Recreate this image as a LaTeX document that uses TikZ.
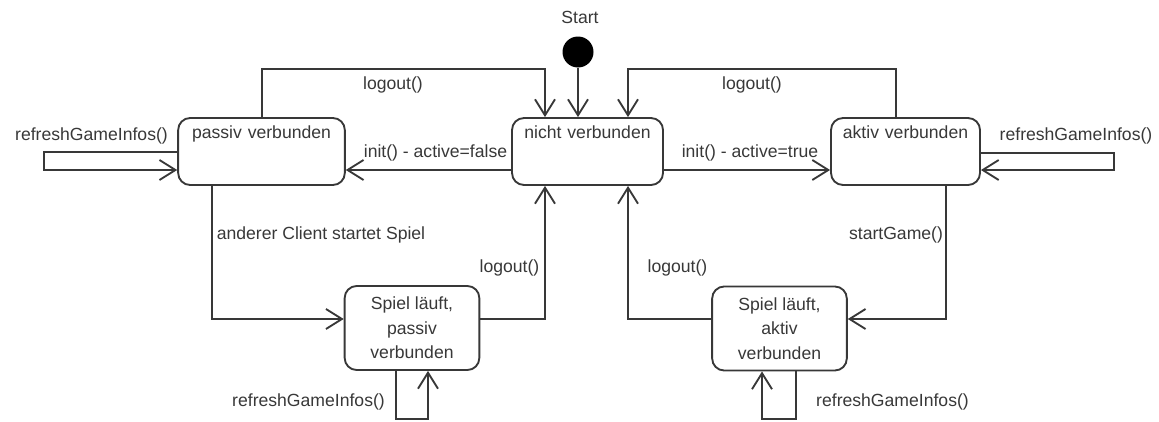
\documentclass[tikz,border=0pt]{standalone}
\usepackage{fontspec}
\setmainfont{Liberation Sans}
\usetikzlibrary{arrows.meta}
\definecolor{ink}{HTML}{383838}
\begin{document}
\begin{tikzpicture}[x=0.75pt,y=-0.75pt,
  every node/.style={font=\fontsize{13.2pt}{18.5pt}\selectfont, text=ink},
  topstate/.style={draw=ink, line width=1.4pt, rounded corners=9pt, fill=white,
    minimum height=50.25pt, inner xsep=2pt, inner ysep=3pt,
    text height=12.6pt, text depth=31.65pt, align=center},
  gamestate/.style={draw=ink, line width=1.4pt, rounded corners=9pt, fill=white,
    minimum width=101pt, minimum height=63pt, align=center, inner sep=2pt},
  lbl/.style={inner sep=0pt, anchor=center},
  conn/.style={draw=ink, line width=1.4pt},
  arr/.style={conn, -{Straight Barb[length=12pt,width=15pt,line width=1.4pt]}}
]
\useasboundingbox (0,0) rectangle (1159,421);

% initial pseudo-state
\node (startlbl) [lbl] at (580,17) {Start};
\node (start) [circle, fill=black, minimum size=23.25pt, inner sep=0pt] at (578,52) {};

% states
\node (pv) [topstate, text width=121pt] at (261.5,151.5) {passiv verbunden};
\node (nv) [topstate, text width=109.25pt] at (587.5,151.5) {nicht verbunden};
\node (av) [topstate, text width=107.75pt] at (905.5,151.5) {aktiv verbunden};
\node (sp) [gamestate] at (412,328) {Spiel läuft,\\passiv\\verbunden};
\node (sa) [gamestate] at (779.5,328.5) {Spiel läuft,\\aktiv\\verbunden};

% bend points
\coordinate (loL) at (545,69);
\coordinate (loR) at (628,69);
\coordinate (pvL1) at (44,152);
\coordinate (pvL2) at (44,170);
\coordinate (avL1) at (1114,153);
\coordinate (avL2) at (1114,170);
\coordinate (pvD) at (212,319);
\coordinate (spR) at (545,319);
\coordinate (avD) at (946,319);
\coordinate (saL) at (628,319);
\coordinate (spB1) at (396,419);
\coordinate (spB2) at (428,419);
\coordinate (saB1) at (796,419);
\coordinate (saB2) at (762,419);

% transitions
\draw[arr] (start) -- (start |- nv.north);
\draw[arr] (pv.north -| 262,0) |- (loL) -- (loL |- nv.north);
\draw[arr] (av.north -| 896,0) |- (loR) -- (loR |- nv.north);
\draw[arr] (nv.west |- 0,170) -- (pv.east |- 0,170);
\draw[arr] (nv.east |- 0,170) -- (av.west |- 0,170);
\draw[arr] (pv.west |- pvL1) -- (pvL1) -- (pvL2) -- (pv.west |- pvL2);
\draw[arr] (av.east |- avL1) -- (avL1) -- (avL2) -- (av.east |- avL2);
\draw[arr] (pv.south -| pvD) -- (pvD) -- (sp.west |- pvD);
\draw[arr] (sp.east |- spR) -- (spR) -- (spR |- nv.south);
\draw[arr] (av.south -| avD) -- (avD) -- (sa.east |- avD);
\draw[arr] (sa.west |- saL) -- (saL) -- (saL |- nv.south);
\draw[arr] (sp.south -| spB1) -- (spB1) -- (spB2) -- (spB2 |- sp.south);
\draw[arr] (sa.south -| saB1) -- (saB1) -- (saB2) -- (saB2 |- sa.south);

% transition labels
\node (l1) [lbl] at (393,85) {logout()};
\node (l2) [lbl] at (752,85) {logout()};
\node (l3) [lbl] at (435.5,153) {init() - active=false};
\node (l4) [lbl] at (750,153) {init() - active=true};
\node (l5) [lbl] at (91.5,136) {refreshGameInfos()};
\node (l6) [lbl] at (1076,136) {refreshGameInfos()};
\node (l7) [lbl] at (321,235) {anderer Client startet Spiel};
\node (l8) [lbl] at (896,235) {startGame()};
\node (l9) [lbl] at (509.5,268) {logout()};
\node (l10) [lbl] at (677.5,268) {logout()};
\node (l11) [lbl] at (308.5,402) {refreshGameInfos()};
\node (l12) [lbl] at (892.5,402) {refreshGameInfos()};
\end{tikzpicture}
\end{document}
